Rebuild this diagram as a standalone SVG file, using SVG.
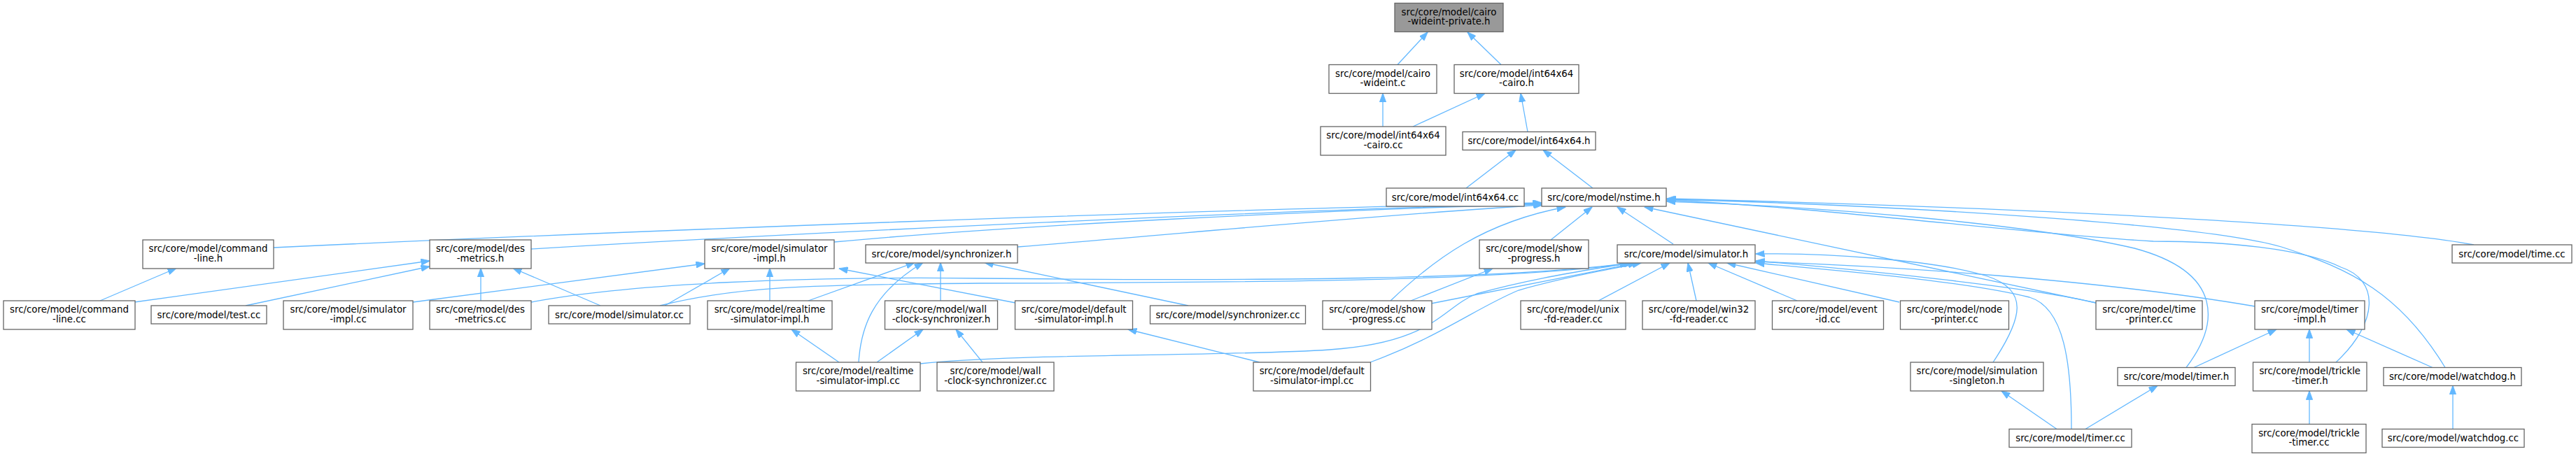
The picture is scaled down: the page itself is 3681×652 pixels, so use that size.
<svg xmlns="http://www.w3.org/2000/svg" width="3681" height="652" viewBox="0 0 3681 652">
<style>
.n rect{fill:#fff;stroke:#666;stroke-width:1.3}
.root rect{fill:#999}
.n text{font-family:"DejaVu Sans","Liberation Sans",sans-serif;font-size:13.33px;text-anchor:middle;fill:#000}
#edges path{fill:none;stroke:#63B8FF;stroke-width:1.3;marker-end:url(#ah)}
</style>
<defs>
<marker id="ah" viewBox="0 0 13 9.4" refX="12.5" refY="4.7" markerWidth="13" markerHeight="9.4" markerUnits="userSpaceOnUse" orient="auto">
<path d="M0,0 L13,4.7 L0,9.4 z" fill="#63B8FF" stroke="#63B8FF" stroke-width="0.8"/>
</marker>
</defs>
<rect width="3681" height="652" fill="#fff"/>
<g id="edges">
<path d="M1997,92.5 L2040,46"/>
<path d="M2145,92.5 L2097,46"/>
<path d="M1976,181 L1976,133.5"/>
<path d="M2019,181 L2122,133.5"/>
<path d="M2183,188.5 L2173,133.5"/>
<path d="M2095,269 L2166,214.5"/>
<path d="M2276,269 L2205,214.5"/>
<path d="M391,354 C900,330 1700,300 2203,290"/>
<path d="M759,356 C1200,330 1800,302 2203,291"/>
<path d="M1192,346 C1450,322 1900,300 2203,292"/>
<path d="M1454,353 C1700,333 2000,305 2204,293"/>
<path d="M1987,430 C2050,370 2120,318 2237,296"/>
<path d="M2216,343 L2275,296"/>
<path d="M2391,349 L2311,296"/>
<path d="M2995,433 L2350,296"/>
<path d="M3124,525.5 C3170,465 3180,390 3050,355 C2900,320 2600,295 2382,288"/>
<path d="M3338,518 C3400,460 3400,400 3345,382 C3290,355 3180,345 3077,345 C2900,335 2600,296 2382,286"/>
<path d="M3494,525.5 C3430,420 3360,385 3260,353 C3150,320 2700,293 2382,285"/>
<path d="M3535,350 C3400,325 3000,300 2382,284"/>
<path d="M759,432 C900,405 1150,395 1400,398 C1800,402 2150,400 2330,376"/>
<path d="M943,437 C1050,410 1150,407 1400,405 C1800,404 2150,402 2333,376"/>
<path d="M1315,520 C1450,505 1750,510 1900,500 C2050,490 2060,440 2110,420 C2200,395 2280,385 2327,376"/>
<path d="M1958,518 C2060,480 2110,440 2170,415 C2240,395 2300,385 2345,376"/>
<path d="M2045,434 L2339,376"/>
<path d="M2284,430 L2386,376"/>
<path d="M2424,430 L2412,376"/>
<path d="M2568,430 L2441,376"/>
<path d="M2714,432 L2468,376"/>
<path d="M2848,518 C2890,455 2900,415 2840,395 C2760,370 2600,362 2509,363"/>
<path d="M2995,433 C2900,410 2650,385 2509,373"/>
<path d="M3222,438 C3000,400 2700,380 2509,374"/>
<path d="M2960,613.5 C2960,520 2950,440 2900,425 C2800,400 2600,385 2509,376"/>
<path d="M590,432 C750,410 900,390 1007,377"/>
<path d="M950,437 L1043,383.5"/>
<path d="M1100,430 L1100,383.5"/>
<path d="M1451,433 L1199,384"/>
<path d="M192,432 L614,373"/>
<path d="M351,437 L614,381"/>
<path d="M687,430 L687,383.5"/>
<path d="M858,437 L733,383.5"/>
<path d="M143,430 L252,383.5"/>
<path d="M1155,430 L1307,375.5"/>
<path d="M1227,518 C1230,470 1245,420 1319,375.5"/>
<path d="M1344,430 L1344,375.5"/>
<path d="M1698,437 L1407,375.5"/>
<path d="M1199,518 L1131,471"/>
<path d="M1253,518 L1319,471"/>
<path d="M1404,518 L1366,471"/>
<path d="M1800,518 L1612,471"/>
<path d="M2016,430 L2133,384"/>
<path d="M3135,525.5 L3253,471"/>
<path d="M3300,518 L3300,471"/>
<path d="M3476,525.5 L3353,471"/>
<path d="M2939,613.5 L2860,559"/>
<path d="M2980,613.5 L3083,551.5"/>
<path d="M3300,606.5 L3300,559"/>
<path d="M3505,613.5 L3505,551.5"/>
</g>
<g id="cairo-wideint-private-h" class="n root"><rect x="1993" y="4.5" width="155" height="41"/><text x="2070.5" y="21.5">src/core/model/cairo</text><text x="2070.5" y="35">-wideint-private.h</text></g>
<g id="cairo-wideint-c" class="n"><rect x="1899" y="92.5" width="154" height="41"/><text x="1976" y="109.5">src/core/model/cairo</text><text x="1976" y="123">-wideint.c</text></g>
<g id="int64x64-cairo-h" class="n"><rect x="2078" y="92.5" width="178" height="41"/><text x="2167" y="109.5">src/core/model/int64x64</text><text x="2167" y="123">-cairo.h</text></g>
<g id="int64x64-cairo-cc" class="n"><rect x="1887" y="181" width="179" height="41"/><text x="1976.5" y="198">src/core/model/int64x64</text><text x="1976.5" y="211.5">-cairo.cc</text></g>
<g id="int64x64-h" class="n"><rect x="2090" y="188.5" width="190" height="26"/><text x="2185" y="206">src/core/model/int64x64.h</text></g>
<g id="int64x64-cc" class="n"><rect x="1981" y="269" width="197" height="26"/><text x="2079.5" y="286.5">src/core/model/int64x64.cc</text></g>
<g id="nstime-h" class="n"><rect x="2203" y="269" width="178" height="26"/><text x="2292" y="286.5">src/core/model/nstime.h</text></g>
<g id="command-line-h" class="n"><rect x="204" y="343" width="187" height="41"/><text x="297.5" y="360">src/core/model/command</text><text x="297.5" y="373.5">-line.h</text></g>
<g id="des-metrics-h" class="n"><rect x="614" y="343" width="145" height="41"/><text x="686.5" y="360">src/core/model/des</text><text x="686.5" y="373.5">-metrics.h</text></g>
<g id="simulator-impl-h" class="n"><rect x="1007" y="343" width="185" height="41"/><text x="1099.5" y="360">src/core/model/simulator</text><text x="1099.5" y="373.5">-impl.h</text></g>
<g id="synchronizer-h" class="n"><rect x="1237" y="350" width="217" height="26"/><text x="1345.5" y="367.5">src/core/model/synchronizer.h</text></g>
<g id="show-progress-h" class="n"><rect x="2114" y="343" width="156" height="41"/><text x="2192" y="360">src/core/model/show</text><text x="2192" y="373.5">-progress.h</text></g>
<g id="simulator-h" class="n"><rect x="2311" y="350" width="197" height="26"/><text x="2409.5" y="367.5">src/core/model/simulator.h</text></g>
<g id="time-cc" class="n"><rect x="3504" y="350" width="171" height="26"/><text x="3589.5" y="367.5">src/core/model/time.cc</text></g>
<g id="command-line-cc" class="n"><rect x="5" y="430" width="188" height="41"/><text x="99" y="447">src/core/model/command</text><text x="99" y="460.5">-line.cc</text></g>
<g id="test-cc" class="n"><rect x="216" y="437" width="165" height="26"/><text x="298.5" y="454.5">src/core/model/test.cc</text></g>
<g id="simulator-impl-cc" class="n"><rect x="405" y="430" width="185" height="41"/><text x="497.5" y="447">src/core/model/simulator</text><text x="497.5" y="460.5">-impl.cc</text></g>
<g id="des-metrics-cc" class="n"><rect x="614" y="430" width="145" height="41"/><text x="686.5" y="447">src/core/model/des</text><text x="686.5" y="460.5">-metrics.cc</text></g>
<g id="simulator-cc" class="n"><rect x="784" y="437" width="202" height="26"/><text x="885" y="454.5">src/core/model/simulator.cc</text></g>
<g id="realtime-simulator-impl-h" class="n"><rect x="1011" y="430" width="178" height="41"/><text x="1100" y="447">src/core/model/realtime</text><text x="1100" y="460.5">-simulator-impl.h</text></g>
<g id="wall-clock-synchronizer-h" class="n"><rect x="1264.5" y="430" width="161" height="41"/><text x="1345" y="447">src/core/model/wall</text><text x="1345" y="460.5">-clock-synchronizer.h</text></g>
<g id="default-simulator-impl-h" class="n"><rect x="1450.5" y="430" width="168" height="41"/><text x="1534.5" y="447">src/core/model/default</text><text x="1534.5" y="460.5">-simulator-impl.h</text></g>
<g id="synchronizer-cc" class="n"><rect x="1643.5" y="437" width="222" height="26"/><text x="1754.5" y="454.5">src/core/model/synchronizer.cc</text></g>
<g id="show-progress-cc" class="n"><rect x="1890" y="430" width="156" height="41"/><text x="1968" y="447">src/core/model/show</text><text x="1968" y="460.5">-progress.cc</text></g>
<g id="unix-fd-reader-cc" class="n"><rect x="2173" y="430" width="150" height="41"/><text x="2248" y="447">src/core/model/unix</text><text x="2248" y="460.5">-fd-reader.cc</text></g>
<g id="win32-fd-reader-cc" class="n"><rect x="2347" y="430" width="161" height="41"/><text x="2427.5" y="447">src/core/model/win32</text><text x="2427.5" y="460.5">-fd-reader.cc</text></g>
<g id="event-id-cc" class="n"><rect x="2532.5" y="430" width="159" height="41"/><text x="2612" y="447">src/core/model/event</text><text x="2612" y="460.5">-id.cc</text></g>
<g id="node-printer-cc" class="n"><rect x="2715.5" y="430" width="155" height="41"/><text x="2793" y="447">src/core/model/node</text><text x="2793" y="460.5">-printer.cc</text></g>
<g id="time-printer-cc" class="n"><rect x="2995" y="430" width="152" height="41"/><text x="3071" y="447">src/core/model/time</text><text x="3071" y="460.5">-printer.cc</text></g>
<g id="timer-impl-h" class="n"><rect x="3222" y="430" width="157" height="41"/><text x="3300.5" y="447">src/core/model/timer</text><text x="3300.5" y="460.5">-impl.h</text></g>
<g id="realtime-simulator-impl-cc" class="n"><rect x="1137.5" y="518" width="177.5" height="41"/><text x="1226.25" y="535">src/core/model/realtime</text><text x="1226.25" y="548.5">-simulator-impl.cc</text></g>
<g id="wall-clock-synchronizer-cc" class="n"><rect x="1339" y="518" width="167" height="41"/><text x="1422.5" y="535">src/core/model/wall</text><text x="1422.5" y="548.5">-clock-synchronizer.cc</text></g>
<g id="default-simulator-impl-cc" class="n"><rect x="1791" y="518" width="167.5" height="41"/><text x="1874.75" y="535">src/core/model/default</text><text x="1874.75" y="548.5">-simulator-impl.cc</text></g>
<g id="simulation-singleton-h" class="n"><rect x="2730" y="518" width="190" height="41"/><text x="2825" y="535">src/core/model/simulation</text><text x="2825" y="548.5">-singleton.h</text></g>
<g id="timer-h" class="n"><rect x="3026" y="525.5" width="168" height="26"/><text x="3110" y="543">src/core/model/timer.h</text></g>
<g id="trickle-timer-h" class="n"><rect x="3219.5" y="518" width="162.5" height="41"/><text x="3300.75" y="535">src/core/model/trickle</text><text x="3300.75" y="548.5">-timer.h</text></g>
<g id="watchdog-h" class="n"><rect x="3406" y="525.5" width="197" height="26"/><text x="3504.5" y="543">src/core/model/watchdog.h</text></g>
<g id="timer-cc" class="n"><rect x="2871" y="613.5" width="175" height="26"/><text x="2958.5" y="631">src/core/model/timer.cc</text></g>
<g id="trickle-timer-cc" class="n"><rect x="3218" y="606.5" width="163" height="41"/><text x="3299.5" y="623.5">src/core/model/trickle</text><text x="3299.5" y="637">-timer.cc</text></g>
<g id="watchdog-cc" class="n"><rect x="3404" y="613.5" width="203" height="26"/><text x="3505.5" y="631">src/core/model/watchdog.cc</text></g>
</svg>
